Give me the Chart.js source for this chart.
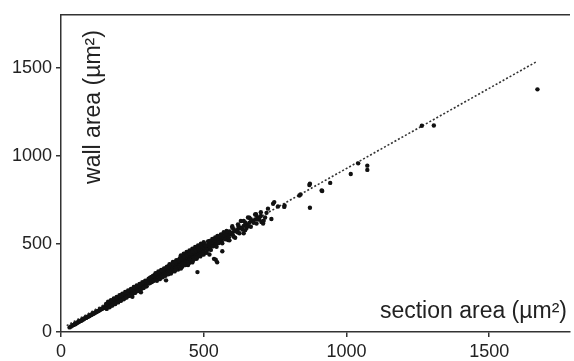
<!DOCTYPE html>
<html>
<head>
<meta charset="utf-8">
<script src="https://cdn.jsdelivr.net/npm/chart.js@4/dist/chart.umd.min.js"></script>
<style>
html,body{margin:0;padding:0;background:#fff;}
#wrap{width:574px;height:361px;position:relative;}
</style>
</head>
<body>
<div id="wrap"><canvas id="c"></canvas></div>
<script>
// ---- data ----
const sectionArea = [
  // low band
  30,35,40,44,48,52,56,60,63,67,70,74,78,81,85,88,92,95,99,102,106,109,113,116,120,123,127,130,134,137,141,144,148,151,
  50,58,65,72,80,87,94,101,108,115,122,129,136,143,150,
  // 150-300 band
  155,160,165,170,175,180,185,190,195,200,205,210,215,220,225,230,235,240,245,250,255,260,265,270,275,280,285,290,295,300,
  157,162,167,172,177,182,187,192,197,202,207,212,217,222,227,232,237,242,247,252,257,262,267,272,277,282,287,292,297,
  163,173,183,193,203,213,223,233,243,253,263,273,283,293,
  168,178,188,198,208,218,228,238,248,258,268,278,288,298,
  158,176,194,212,230,248,266,284,300,
  160,170,180,190,200,210,220,230,240,250,260,270,280,290,300,
  165,175,185,195,205,215,225,235,245,255,265,275,285,295,
  // 300-500 band
  305,310,315,320,325,330,335,340,345,350,355,360,365,370,375,380,385,390,395,400,405,410,415,420,425,430,435,440,445,450,455,460,465,470,475,480,485,490,495,500,
  307,312,317,322,327,332,337,342,347,352,357,362,367,372,377,382,387,392,397,402,407,412,417,422,427,432,437,442,447,452,457,462,467,472,477,482,487,492,497,
  308,313,318,323,328,333,338,343,348,353,358,363,368,373,378,383,388,393,398,403,408,413,418,423,428,433,438,443,448,453,458,463,468,473,478,483,488,493,498,
  380,392,404,416,428,440,452,464,476,488,500,
  385,398,410,423,436,449,462,475,488,500,
  420,430,440,450,460,470,480,490,500,
  331,341,351,361,371,381,391,401,411,421,431,441,451,461,471,481,
  336,346,356,366,376,386,396,406,416,426,436,446,456,466,476,486,496,
  // 500-700 band
  505,510,515,520,525,530,535,540,545,550,555,560,565,570,575,580,585,590,595,600,610,620,630,640,650,660,670,680,690,700,
  508,518,528,538,548,558,568,578,590,605,622,645,665,685,
  512,522,533,543,553,563,575,588,602,618,635,655,675,695,
  515,530,548,570,
  520,540,560,580,600,620,640,660,680,
  525,545,565,585,605,625,645,665,685,
  // scattered points
  368,478,536,542,547,565,683,702,708,710,737,725,743,747,783,782,720,760,835,839,870,872,872,913,915,943,1015,1041,1073,1073,1264,1306,1669,
  400,420,445,460,510,520,590,610,640,600,630,655,700,690,715,650,280,250
];
const wallArea = [
  26,31,37,40,45,47,52,55,58,62,64,69,71,75,79,80,85,88,90,95,97,101,103,107,111,112,117,120,122,127,129,133,136,140,
  44,54,61,65,75,81,86,93,100,105,113,118,126,131,137,
  146,149,155,158,164,168,173,177,182,187,191,196,201,205,210,214,219,224,228,233,238,242,247,251,256,261,265,270,275,279,
  140,144,149,153,158,162,167,171,176,181,185,190,194,199,203,208,212,217,221,226,231,235,240,244,248,253,257,262,266,
  158,167,177,186,195,204,214,223,232,242,251,260,269,278,
  143,152,161,170,179,188,197,205,214,223,232,241,250,259,
  159,176,192,209,226,242,259,275,290,
  131,140,150,159,168,177,186,196,205,214,223,232,242,251,260,
  172,181,190,199,209,218,227,236,245,255,264,273,282,291,
  287,291,296,301,306,310,315,320,324,329,334,338,343,348,353,357,362,367,371,376,381,385,390,395,400,404,409,414,418,423,428,432,437,442,447,451,456,461,465,470,
  303,308,313,318,322,327,332,336,341,346,351,355,360,365,369,374,379,383,388,393,398,402,407,412,416,421,426,430,435,440,445,449,454,459,463,468,473,477,482,
  275,279,284,289,293,298,303,307,312,317,321,326,331,336,340,345,350,354,359,364,368,373,378,383,387,392,397,401,406,411,415,420,425,430,434,439,444,448,453,
  385,397,408,419,430,442,453,464,476,487,498,
  332,344,355,368,380,392,404,416,429,440,
  435,444,454,463,472,482,491,501,510,
  333,343,352,361,371,380,390,399,408,418,427,437,446,455,465,474,
  291,300,310,319,328,338,347,357,366,375,385,394,404,413,422,432,441,
  475,479,484,489,494,498,503,508,512,517,522,526,531,536,541,545,550,555,559,564,573,583,592,602,611,620,630,639,649,658,
  492,502,511,521,530,540,549,558,570,584,600,621,640,659,
  466,476,486,495,505,514,526,538,551,566,582,601,620,638,
  514,528,545,566,
  517,536,554,573,592,611,630,648,667,
  466,484,503,522,541,560,578,597,616,
  293,340,415,410,396,458,669,624,615,631,641,700,728,737,718,710,676,712,775,780,834,841,705,803,800,846,897,957,944,920,1170,1172,1377,
  350,360,380,395,450,440,520,535,560,600,630,650,680,640,650,590,225,200
];
const trendX = [20, 1667];
const trendY = [36, 1535];
const xTicks = [0, 500, 1000, 1500];
const yTicks = [0, 500, 1000, 1500];
const xTitle = 'section area (\u00B5m\u00B2)';
const yTitle = 'wall area (\u00B5m\u00B2)';

// ---- build ----
const points = sectionArea.map((x, i) => ({x: x, y: wallArea[i]}));
const trend = trendX.map((x, i) => ({x: x, y: trendY[i]}));
const FONT = '"Liberation Sans", Arial, Helvetica, sans-serif';

const decor = {
  id: 'decor',
  afterDraw(chart) {
    const ctx = chart.ctx;
    const a = chart.chartArea;
    ctx.save();
    ctx.strokeStyle = '#333';
    ctx.lineWidth = 1.5;
    ctx.beginPath();
    ctx.moveTo(a.left, a.top);
    ctx.lineTo(a.right, a.top);
    ctx.stroke();
    ctx.fillStyle = '#222';
    ctx.font = '23px ' + FONT;
    ctx.textAlign = 'right';
    ctx.textBaseline = 'alphabetic';
    ctx.fillText(xTitle, 567, 318);
    ctx.translate(100, 107);
    ctx.rotate(-Math.PI / 2);
    ctx.textAlign = 'center';
    ctx.fillText(yTitle, 0, 0);
    ctx.restore();
  }
};

new Chart(document.getElementById('c'), {
  type: 'scatter',
  data: {
    datasets: [
      {
        type: 'line',
        data: trend,
        borderColor: '#333',
        borderWidth: 1.6,
        borderDash: [2, 2],
        pointRadius: 0,
        fill: false,
        order: 2
      },
      {
        data: points,
        backgroundColor: '#111',
        borderWidth: 0,
        pointRadius: 2.2,
        order: 1
      }
    ]
  },
  options: {
    responsive: true,
    maintainAspectRatio: false,
    animation: false,
    layout: {padding: {top: 13, left: 0, right: 0, bottom: 0}},
    plugins: {legend: {display: false}, tooltip: {enabled: false}},
    scales: {
      x: {
        type: 'linear',
        min: 0,
        max: 1783,
        afterBuildTicks: s => { s.ticks = xTicks.map(v => ({value: v})); },
        afterFit: s => { s.height = 29; },
        grid: {display: true, drawOnChartArea: false, drawTicks: true, tickLength: 5, color: '#333', lineWidth: 1.5},
        border: {display: true, color: '#333', width: 1.5},
        ticks: {font: {family: FONT, size: 18}, color: '#222', padding: 4, maxRotation: 0, callback: v => String(v)}
      },
      y: {
        type: 'linear',
        min: 0,
        max: 1800,
        afterBuildTicks: s => { s.ticks = yTicks.map(v => ({value: v})); },
        afterFit: s => { s.width = 61; },
        grid: {display: true, drawOnChartArea: false, drawTicks: true, tickLength: 5, color: '#333', lineWidth: 1.5},
        border: {display: true, color: '#333', width: 1.5},
        ticks: {font: {family: FONT, size: 18}, color: '#222', padding: 4, callback: v => String(v)}
      }
    }
  },
  plugins: [decor]
});
</script>
</body>
</html>
